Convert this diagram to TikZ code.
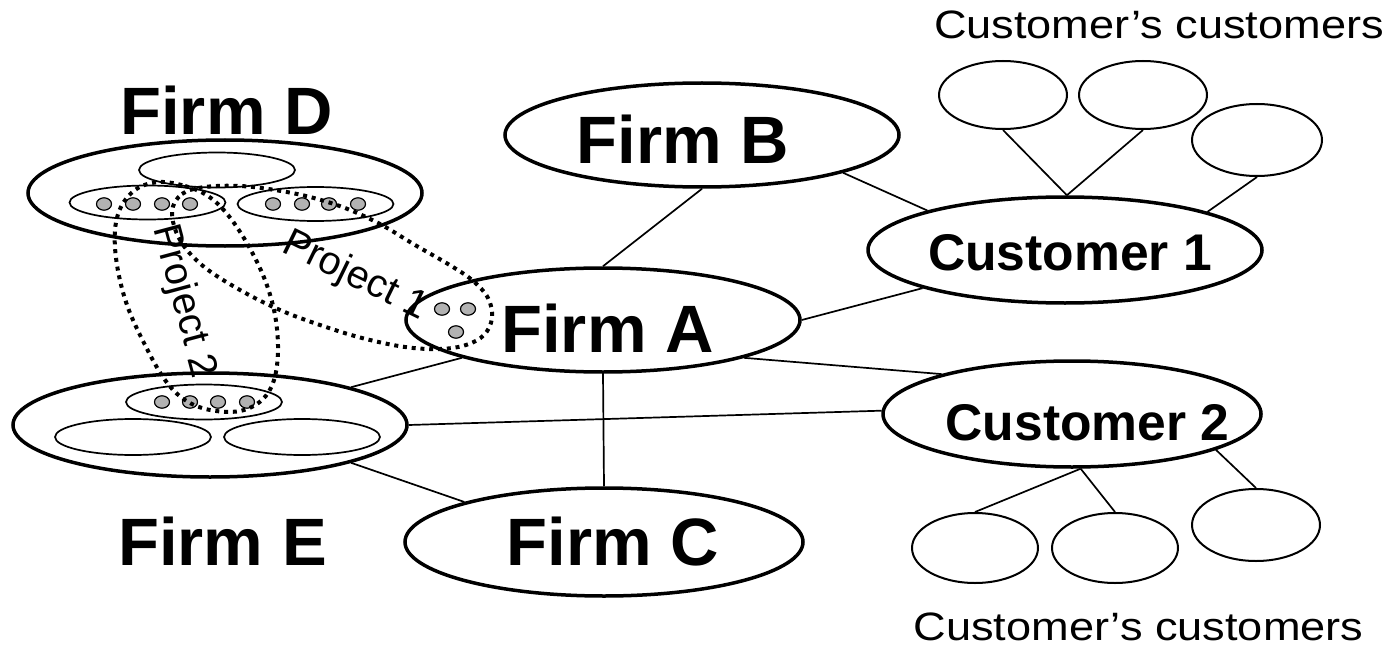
\documentclass[tikz,border=0pt]{standalone}
\usepackage{fontspec}
\setmainfont{Liberation Sans}
\usetikzlibrary{shapes.geometric}
\definecolor{dotgray}{gray}{0.7}

\begin{document}
\begin{tikzpicture}[x=0.5pt,y=-0.5pt,
  oval/.style 2 args={ellipse, draw, inner sep=0pt, minimum width=#1pt, minimum height=#2pt},
  firm/.style={line width=1.75pt},
  unit/.style={line width=0.85pt},
  leaf/.style={line width=1pt},
  member/.style={ellipse, draw, fill=dotgray, line width=0.6pt, inner sep=0pt,
                 minimum width=7.5pt, minimum height=6.2pt},
  link/.style={line width=0.85pt},
  proj/.style={line width=2pt, dash pattern=on 2pt off 2.4pt},
  firmtxt/.style={font=\fontsize{33.5}{40}\selectfont\bfseries, anchor=base, inner sep=0pt},
  custtxt/.style={font=\fontsize{25.8}{31}\selectfont\bfseries, anchor=base, inner sep=0pt},
  plaintxt/.style={font=\fontsize{19.8}{24}\selectfont, inner sep=0pt},
]
\useasboundingbox (0,0) rectangle (1392,647);

% ---- firms ----
\node[oval={197}{52}, firm] (fA) at (603,320) {};
\node[oval={197}{52}, firm] (fB) at (702,135) {};
\node[oval={199}{54}, firm] (fC) at (604,542) {};
\node[oval={197}{53}, firm] (fD) at (225,193) {};
\node[oval={197}{52}, firm] (fE) at (210,425) {};
\node[oval={197}{53}, firm] (c1) at (1065,250) {};
\node[oval={189}{53}, firm] (c2) at (1072,414) {};

\node[firmtxt] (tA) at (607.5,352) {Firm A};
\node[firmtxt] (tB) at (683,163) {Firm B};
\node[firmtxt] (tC) at (613,565) {Firm C};
\node[firmtxt] (tD) at (226.5,134) {Firm D};
\node[firmtxt] (tE) at (222.5,565) {Firm E};
\node[custtxt] (t1) at (1070,270) {Customer 1};
\node[custtxt] (t2) at (1087.5,440) {Customer 2};

% ---- units inside firms D and E ----
\node[oval={78}{17.5}, unit] (d0) at (217,170) {};
\node[oval={78}{17}, unit] (d1) at (147.5,202.5) {};
\node[oval={78}{17}, unit] (d2) at (315.5,204) {};
\node[oval={78}{17.5}, unit] (e0) at (204,402) {};
\node[oval={78}{18}, unit] (e1) at (133,437) {};
\node[oval={78}{18}, unit] (e2) at (302,437) {};

% ---- customers' customers ----
\node[oval={64}{34}, leaf] (s1) at (1003,95) {};
\node[oval={64}{34}, leaf] (s2) at (1143,95) {};
\node[oval={65}{36}, leaf] (s3) at (1257,140) {};
\node[oval={63}{35}, leaf] (u1) at (975,548) {};
\node[oval={63}{35}, leaf] (u2) at (1115,548) {};
\node[oval={64}{36}, leaf] (u3) at (1256,525) {};

\node[plaintxt, anchor=base, transform shape, xscale=1.14] (ccTop) at (1159,39) {Customer’s customers};
\node[plaintxt, anchor=base, transform shape, xscale=1.14] (ccBot) at (1138.5,640) {Customer’s customers};

% ---- links ----
\draw[link] (fB.-90) -- (fA.90);
\draw[link] (fB.-15.4) -- (c1.164.6);
\draw[link] (fA.0) -- (c1.195.7);
\draw[link] (fA.-15.2) -- (c2.163.5);
\draw[link] (fA.-90) -- (fC.90);
\draw[link] (fA.195.6) -- (fE.15.9);
\draw[link] (fE.0) -- (c2.179);
\draw[link] (fE.-15.9) -- (fC.164.7);
\draw[link] (s1.-90) -- (c1.88);
\draw[link] (s2.-90) -- (c1.88);
\draw[link] (s3.-90) -- (c1.15.2);
\draw[link] (c2.-81.4) -- (u1.90);
\draw[link] (c2.-81.4) -- (u2.90);
\draw[link] (c2.-14.8) -- (u3.90);

% ---- project members ----
\foreach \x [count=\i] in {104,133,162,190} \node[member] (dl\i) at (\x,204) {};
\foreach \x [count=\i] in {273,302,329,358} \node[member] (dr\i) at (\x,204) {};
\foreach \x [count=\i] in {162,190,218,247} \node[member] (em\i) at (\x,402) {};
\node[member] (am1) at (442,309) {};
\node[member] (am2) at (468,309) {};
\node[member] (am3) at (456,332) {};

% ---- project boundaries ----
\draw[proj] plot[smooth cycle, tension=0.6] coordinates {
  (172,212) (182,194) (205,187) (240,186) (275,190) (310,197) (345,208)
  (380,224) (415,245) (448,264) (472,280) (488,298) (492,318) (484,335)
  (466,345) (440,349) (405,347) (362,338) (320,325) (280,310) (240,290)
  (203,266) (180,240)};
\draw[proj] plot[smooth cycle, tension=0.6] coordinates {
  (160,182) (185,186) (208,196) (228,215) (248,245) (265,280) (275,315)
  (278,350) (274,380) (262,400) (240,411) (210,410) (185,400) (165,380)
  (145,345) (127,305) (117,265) (115,230) (122,205) (138,188)};

\node[plaintxt, anchor=base west, rotate=-26] (p1) at (280,251) {Project 1};
\node[plaintxt, anchor=base west, rotate=-75] (p2) at (153,228) {Project 2};
\end{tikzpicture}
\end{document}
